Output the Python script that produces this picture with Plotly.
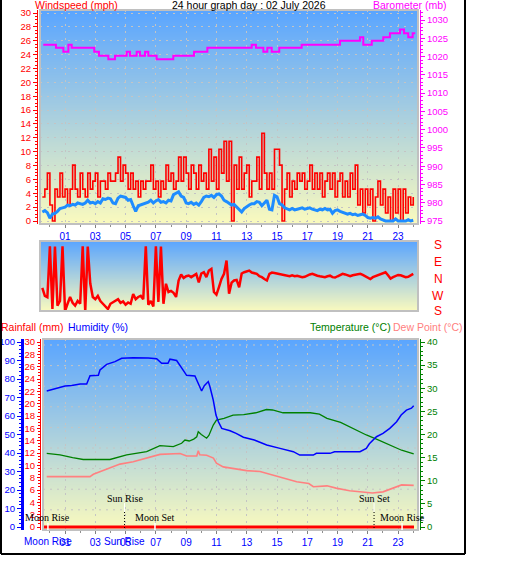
import base64, zlib, struct
import plotly.graph_objects as go

# ---------------- data ----------------
KT_TO_MPH = 1.1508
SAMPLE_START = -0.5          # hour of first 10-minute sample
SAMPLE_STEP = 1 / 6          # 10 minutes

gust_kt = [3, 4, 6, 2, 0, 4,  3, 6, 3, 4, 2, 4,  7, 4, 3, 6, 4, 3,  6, 4, 5, 6, 3, 5,
           5, 4, 6, 5, 5, 6,  8, 5, 7, 6, 4, 6,  4, 5, 3, 5, 4, 5,  5, 7, 4, 5, 3, 5,
           4, 7, 5, 6, 4, 5,  8, 5, 8, 6, 4, 7,  6, 4, 7, 5, 6, 4,  9, 5, 8, 4, 9, 6,
           10, 5, 10, 0, 7, 4, 8, 4, 6, 7, 3, 5,  5, 8, 4, 11, 6, 4, 6, 4, 9, 9, 7, 0,
           4, 6, 3, 5, 4, 6,  5, 6, 4, 5, 7, 4,  6, 4, 6, 3, 5, 6,  4, 6, 3, 5, 6, 3,
           5, 3, 6, 4, 7, 2,  4, 1, 4, 2, 4, 0,  3, 5, 2, 4, 1, 3,  0, 4, 1, 4, 0, 4,
           1, 3, 2, 3]

avg_mph = [1.3, 1.5, 1.2, 0.4, 1.0, 1.1,  1.4, 1.8, 1.9, 2.0, 2.3, 2.2,  2.4, 2.3, 2.6, 2.5, 2.4, 2.6,
           3.0, 2.6, 2.7, 2.5, 2.8, 2.6,  3.2, 3.1, 3.3, 3.2, 2.6, 2.5,  3.3, 3.6, 3.5, 3.4, 3.0, 3.1,
           2.2, 1.4, 2.2, 2.3, 2.4, 2.6,  2.7, 3.0, 2.6, 2.9, 3.1, 2.7,  2.8, 2.6, 3.0, 2.9, 3.8, 4.0,
           4.2, 3.6, 3.4, 2.6, 2.5, 2.7,  2.4, 2.6, 2.3, 2.8, 3.4, 3.6,  3.5, 3.7, 3.4, 3.8, 3.9, 3.6,
           3.0, 2.8, 2.6, 2.3, 2.4, 2.0,  1.6, 1.3, 1.8, 2.1, 2.3, 2.5,  2.5, 2.8, 2.7, 2.2, 2.6, 3.0,
           1.7, 1.6, 3.7, 3.5, 2.5, 2.3,  1.9, 1.7, 1.6, 1.8, 1.6, 1.7,  1.8, 1.9, 1.7, 1.8, 1.9, 1.7,
           1.6, 1.5, 1.7, 1.6, 1.8, 1.6,  1.7, 1.1, 1.5, 1.6, 1.4, 1.3,  1.2, 1.0, 1.1, 0.9, 1.0, 0.8,
           0.9, 1.0, 0.8, 0.5, 0.4, 0.5,  0.4, 0.6, 0.3, 0.1, 0.0, 0.0,  0.0, 0.0, 0.3, 0.0, 0.0, 0.0,
           0.0, 0.2, 0.0, 0.1]

wind_dir_deg = [312, 268, 261, 178, 196, 177,  215, 240, 178, 185, 225, 262,  230, 215, 240, 225, 178, 183,
                177, 335, 262, 250, 268, 240,  225, 210, 196, 225, 235, 240,  250, 230, 238, 220, 232, 225,
                278, 250, 262, 268, 250, 178,  220, 240, 210, 178, 235, 177,  225, 334, 289, 295, 285, 262,
                352, 25, 5, 15, 19, 10,  20, 28, 342, 30, 37, 10,  46, 55, 289, 275, 316, 0,
                28, 101, 280, 340, 352, 355,  315, 30, 37, 40, 46, 35,  30, 28, 15, 10, 0, 352,
                28, 35, 33, 30, 25, 22,  19, 19, 15, 20, 15, 18,  12, 10, 12, 20, 25, 28,
                22, 18, 15, 12, 10, 15,  18, 10, 8, 15, 22, 28,  25, 18, 15, 20, 22, 25,
                28, 22, 15, 8, 0, 10,  15, 22, 28, 30, 37, 20,  2, 10, 18, 22, 20, 15,
                10, 12, 20, 28]

baro_hours = [-0.44, 0.40, 0.89, 1.22, 1.44, 2.93, 3.24, 3.86, 4.30, 5.07, 5.29, 5.73, 5.95, 6.28,
              6.50, 7.05, 8.15, 9.52, 10.40, 13.33, 13.61, 14.10, 14.36, 14.65, 15.15, 16.63, 19.16,
              20.48, 20.70, 21.26, 22.02, 22.46, 23.12, 23.39, 23.67, 23.96, 24.13]
baro_mb = [1023.2, 1022.4, 1021.3, 1023.2, 1022.4, 1021.3, 1020.2, 1019.25, 1020.2, 1021.3, 1020.2,
           1021.3, 1020.2, 1021.3, 1020.2, 1019.25, 1020.2, 1021.3, 1022.4, 1023.2, 1022.4, 1021.3,
           1022.4, 1021.3, 1022.4, 1023.2, 1024.3, 1025.3, 1023.2, 1024.3, 1025.3, 1026.4, 1027.4,
           1026.4, 1025.3, 1026.4, 1026.4]

hum_hours = [-0.21, 0.2, 0.67, 1.0, 1.44, 2.0, 2.43, 2.5, 2.65, 3.2, 3.31, 3.75, 4.3, 4.74, 5.5, 6.5,
             7.05, 7.38, 7.8, 7.93, 8.37, 8.7, 9.03, 9.58, 9.75, 9.91, 10.02, 10.2, 10.46, 10.57,
             10.79, 10.97, 11.13, 11.35, 11.9, 12.3, 12.78, 13.5, 14.32, 15.2, 16.08, 16.5, 17.4,
             17.6, 18.5, 18.8, 20.48, 20.9, 21.1, 21.57, 22.0, 22.45, 22.9, 23.2, 23.55, 23.88, 24.03]
hum_pct = [73.5, 74.5, 75.5, 76.2, 76.5, 77.3, 77.3, 79.1, 81.8, 82.0, 84.9, 87.9, 89.4, 91.2, 91.5,
           91.3, 91.0, 88.5, 88.5, 90.7, 90.0, 86.0, 82.0, 81.6, 78.6, 76.0, 73.5, 76.4, 78.6, 75.8,
           68.6, 60.5, 56.9, 53.3, 52.0, 50.6, 48.5, 47.0, 44.3, 42.5, 40.7, 38.9, 38.9, 39.8, 39.8,
           40.7, 40.7, 42.5, 45.0, 48.8, 50.6, 53.3, 56.9, 60.5, 63.2, 64.2, 65.6]

temp_hours = [-0.21, 0.67, 1.5, 2.2, 3.97, 5.07, 6.39, 7.27, 8.15, 8.7, 8.92, 9.2, 9.5, 9.7, 9.8, 10.0,
              10.35, 10.5, 10.79, 11.0, 11.5, 12.1, 12.8, 13.6, 14.3, 14.7, 15.4, 17.2, 17.8, 18.3,
              19.2, 20.0, 20.9, 21.57, 22.34, 23.23, 24.03]
temp_c = [15.9, 15.6, 15.0, 14.6, 14.6, 15.6, 16.3, 17.6, 17.4, 18.1, 18.8, 18.6, 19.0, 19.5, 20.6,
          20.0, 19.2, 19.8, 22.05, 23.1, 23.5, 24.2, 24.3, 24.7, 25.4, 25.3, 24.7, 24.7, 24.4, 23.5,
          22.6, 21.3, 19.9, 19.0, 17.9, 16.6, 15.8]

dew_hours = [-0.21, 1.0, 2.2, 2.65, 2.87, 3.75, 4.63, 5.5, 6.39, 7.27, 8.6, 9.03, 9.7, 9.8, 9.9, 10.35,
             10.8, 11.0, 11.45, 12.1, 12.99, 13.88, 14.3, 14.76, 15.6, 16.3, 17.1, 17.4, 18.3, 18.9,
             19.8, 20.7, 21.3, 22.0, 22.7, 23.23, 24.03]
dew_c = [10.9, 10.9, 10.8, 10.9, 11.4, 12.5, 13.6, 14.1, 14.85, 15.7, 15.9, 15.35, 15.35, 16.5, 15.6,
         15.5, 14.9, 13.8, 13.0, 12.7, 12.2, 12.0, 11.6, 11.2, 10.3, 9.8, 9.4, 8.7, 8.9, 8.4, 7.85,
         7.5, 7.35, 7.6, 8.4, 9.1, 9.0]

rain_hours = [-0.45, 24.05]
rain_mm = [0, 0]

hour_ticks = [1, 3, 5, 7, 9, 11, 13, 15, 17, 19, 21, 23]
hour_labels = ["01", "03", "05", "07", "09", "11", "13", "15", "17", "19", "21", "23"]

event_names = ["Moon Rise", "Sun Rise", "Moon Set", "Sun Set", "Moon Rise"]
event_hours = [-0.13, 4.93, 6.94, 21.41, 23.26]
event_kind = ["moon", "sun", "moon", "sun", "moon"]
axis_event_labels = [("Moon Rise", -0.13), ("Sun Rise", 4.93)]

dir_names = ["S", "E", "N", "W", "S"]

# ---------------- geometry helpers ----------------
W, H = 529, 563
def fx(px): return px / W
def fy(py): return 1 - py / H

H0_PX, PX_PER_H = 49.9, 15.14
def hr(px): return (px - H0_PX) / PX_PER_H

def vrange(zero_px, px_per_unit, top_px, bot_px, zero_val=0.0):
    return [zero_val + (zero_px - bot_px) / px_per_unit, zero_val + (zero_px - top_px) / px_per_unit]

P1 = (40, 418, 10, 224)
P2 = (40, 418, 241, 311)
P3 = (43, 418, 339, 530)

FONT = "Liberation Sans"
SERIF = "Liberation Serif"
GRID = "#c4c4c4"
GDASH = "2px,5px"

def gradient_png(top, bottom, n=200):
    raw = b""
    for i in range(n):
        t = i / (n - 1)
        raw += b"\x00" + bytes([round(top[k] + (bottom[k] - top[k]) * t) for k in range(3)])
    def chunk(typ, data):
        return struct.pack(">I", len(data)) + typ + data + struct.pack(">I", zlib.crc32(typ + data) & 0xffffffff)
    png = (b"\x89PNG\r\n\x1a\n" + chunk(b"IHDR", struct.pack(">IIBBBBB", 1, n, 8, 2, 0, 0, 0))
           + chunk(b"IDAT", zlib.compress(raw)) + chunk(b"IEND", b""))
    return "data:image/png;base64," + base64.b64encode(png).decode()

GRAD = gradient_png((90, 165, 255), (250, 250, 190))

# ---------------- traces ----------------
sample_hours = [SAMPLE_START + i * SAMPLE_STEP for i in range(len(gust_kt))]
gust_mph = [k * KT_TO_MPH for k in gust_kt]
dir_plot = [d if d <= 180 else d - 360 for d in wind_dir_deg]

fig = go.Figure()
fig.add_trace(go.Scatter(x=sample_hours, y=gust_mph, xaxis="x", yaxis="y", mode="lines",
                         line=dict(color="#ff0000", width=1.6, shape="hv")))
fig.add_trace(go.Scatter(x=sample_hours, y=avg_mph, xaxis="x", yaxis="y", mode="lines",
                         line=dict(color="#1e8cff", width=3)))
fig.add_trace(go.Scatter(x=baro_hours, y=baro_mb, xaxis="x", yaxis="y2", mode="lines",
                         line=dict(color="#ff00ff", width=2, shape="hv")))
fig.add_trace(go.Scatter(x=sample_hours, y=dir_plot, xaxis="x2", yaxis="y3", mode="lines",
                         line=dict(color="#ff0000", width=2.5)))
fig.add_trace(go.Scatter(x=dew_hours, y=dew_c, xaxis="x3", yaxis="y5", mode="lines",
                         line=dict(color="#ff8080", width=1.6)))
fig.add_trace(go.Scatter(x=temp_hours, y=temp_c, xaxis="x3", yaxis="y5", mode="lines",
                         line=dict(color="#008000", width=1.3)))
fig.add_trace(go.Scatter(x=hum_hours, y=hum_pct, xaxis="x3", yaxis="y6", mode="lines",
                         line=dict(color="#0000ff", width=1.5)))
fig.add_trace(go.Scatter(x=rain_hours, y=rain_mm, xaxis="x3", yaxis="y4", mode="lines",
                         line=dict(color="#ff0000", width=3)))

# ---------------- axes ----------------
def xcommon(p):
    return dict(domain=[fx(p[0]), fx(p[1])], range=[hr(p[0]), hr(p[1])],
                tickmode="array", tickvals=hour_ticks, ticktext=hour_labels,
                tickfont=dict(color="#0000ff", size=10, family=FONT),
                ticks="outside", ticklen=3, tickcolor="#808080",
                minor=dict(tickmode="array", tickvals=list(range(0, 25)), ticks="outside",
                           ticklen=2, tickcolor="#909090"),
                showgrid=True, gridcolor=GRID, griddash=GDASH, gridwidth=1,
                zeroline=False, showline=False)

def yax(color, rng, dtick, minor, pos, side="left", lw=1, **kw):
    d = dict(range=rng, anchor="free", position=fx(pos), side=side, tick0=0, dtick=dtick,
             tickfont=dict(color=color, size=9.5, family=FONT), ticks="outside", ticklen=4,
             tickcolor=color, minor=dict(dtick=minor, ticks="outside", ticklen=2, tickcolor=color),
             showline=True, linecolor=color, linewidth=lw, zeroline=False, showgrid=False)
    d.update(kw)
    return d

layout = dict(
    width=W, height=H, autosize=False, template="none",
    margin=dict(l=0, r=0, t=0, b=0), paper_bgcolor="white", plot_bgcolor="rgba(0,0,0,0)",
    showlegend=False, font=dict(family=FONT),
    xaxis=dict(anchor="y", **xcommon(P1)),
    yaxis=yax("#ff0000", vrange(221, 208 / 30, P1[2], P1[3]), 2, 0.5, 37,
              domain=[fy(P1[3]), fy(P1[2])], showgrid=True, gridcolor=GRID, griddash=GDASH),
    yaxis2=yax("#ff00ff", vrange(221, 201 / 55, P1[2], P1[3], 975), 5, 1, 420, side="right",
               overlaying="y", tick0=975),
    xaxis2=dict(domain=[fx(P2[0]), fx(P2[1])], range=[hr(P2[0]), hr(P2[1])], anchor="y3",
                visible=False),
    yaxis3=dict(domain=[fy(P2[3]), fy(P2[2])], range=vrange(279, 16.5 / 90, P2[2], P2[3]),
                anchor="x2", visible=False),
    xaxis3=dict(anchor="y4", **xcommon(P3)),
    yaxis4=yax("#ff0000", vrange(527, 185 / 30, P3[2], P3[3]), 2, 0.5, 40,
               domain=[fy(P3[3]), fy(P3[2])], ticklen=3),
    yaxis5=yax("#008000", vrange(527, 185 / 40, P3[2], P3[3]), 5, 1, 420, side="right",
               overlaying="y4"),
    yaxis6=yax("#0000ff", vrange(527, 185 / 100, P3[2], P3[3]), 10, 2, 22, overlaying="y4", lw=3),
)
fig.update_layout(**layout)

# ---------------- backgrounds ----------------
images = []
for p in (P1, P2, P3):
    images.append(dict(source=GRAD, xref="paper", yref="paper", x=fx(p[0]), y=fy(p[2]),
                       sizex=fx(p[1]) - fx(p[0]), sizey=fy(p[2]) - fy(p[3]),
                       sizing="stretch", layer="below", xanchor="left", yanchor="top"))
fig.update_layout(images=images)

shapes = []
# panel 3 horizontal dotted grid rows
for k in range(9):
    yy = 345 + k * 20.6
    shapes.append(dict(type="line", xref="x3 domain", yref="paper", x0=0, x1=1, y0=fy(yy), y1=fy(yy),
                       line=dict(color=GRID, width=1, dash=GDASH), layer="below"))
# panel frames
for p in (P1, P2, P3):
    shapes.append(dict(type="rect", xref="paper", yref="paper", x0=fx(p[0]), x1=fx(p[1]),
                       y0=fy(p[3]), y1=fy(p[2]), line=dict(color="#c0c0c0", width=2)))
# event markers
for name, h, kind in zip(event_names, event_hours, event_kind):
    if kind == "sun":
        shapes.append(dict(type="line", xref="x3", yref="paper", x0=h, x1=h, y0=fy(503), y1=fy(512),
                           line=dict(color="white", width=1)))
        shapes.append(dict(type="line", xref="x3", yref="paper", x0=h, x1=h, y0=fy(512), y1=fy(530),
                           line=dict(color="black", width=1, dash="1px,2px")))
    else:
        shapes.append(dict(type="line", xref="x3", yref="paper", x0=h, x1=h, y0=fy(523), y1=fy(530),
                           line=dict(color="white", width=1.5)))
# outer black frame
shapes += [
    dict(type="line", xref="paper", yref="paper", x0=fx(1), x1=fx(1), y0=fy(0), y1=fy(554),
         line=dict(color="black", width=2)),
    dict(type="line", xref="paper", yref="paper", x0=fx(465), x1=fx(465), y0=fy(0), y1=fy(554),
         line=dict(color="black", width=2)),
    dict(type="line", xref="paper", yref="paper", x0=fx(1), x1=fx(465), y0=fy(554), y1=fy(554),
         line=dict(color="black", width=2)),
]
fig.update_layout(shapes=shapes)

# ---------------- annotations ----------------
def ann(text, x, y, color, size=10.5, xanchor="left", family=FONT, xref="paper"):
    return dict(text=text, x=fx(x) if xref == "paper" else x, y=fy(y), xref=xref, yref="paper",
                xanchor=xanchor, yanchor="middle", showarrow=False, borderpad=0,
                font=dict(color=color, size=size, family=family))

anns = [
    ann("Windspeed (mph)", 34, 5, "#ff0000"),
    ann("24 hour graph day : 02 July 2026", 249, 5, "black", xanchor="center"),
    ann("Barometer (mb)", 372, 5, "#ff00ff"),
    ann("Rainfall (mm)", 0, 327, "#ff0000"),
    ann("Humidity (%)", 67, 327, "#0000ff"),
    ann("Temperature (°C)", 392, 327, "#008000", xanchor="right"),
    ann("Dew Point (°C)", 392, 327, "#ff8080"),
]
for name, yy in zip(dir_names, [245, 262, 279, 296, 311]):
    anns.append(ann(name, 438, yy, "#ff0000", size=12, xanchor="center"))
for name, h, kind in zip(event_names, event_hours, event_kind):
    anns.append(ann(name, h, 498 if kind == "sun" else 517, "black", size=10, xanchor="center",
                    family=SERIF, xref="x3"))
for name, h in axis_event_labels:
    anns.append(ann(name, h, 541, "#0000ff", size=10, xanchor="center", xref="x3"))
fig.update_layout(annotations=anns)

fig.write_html("out.html")
